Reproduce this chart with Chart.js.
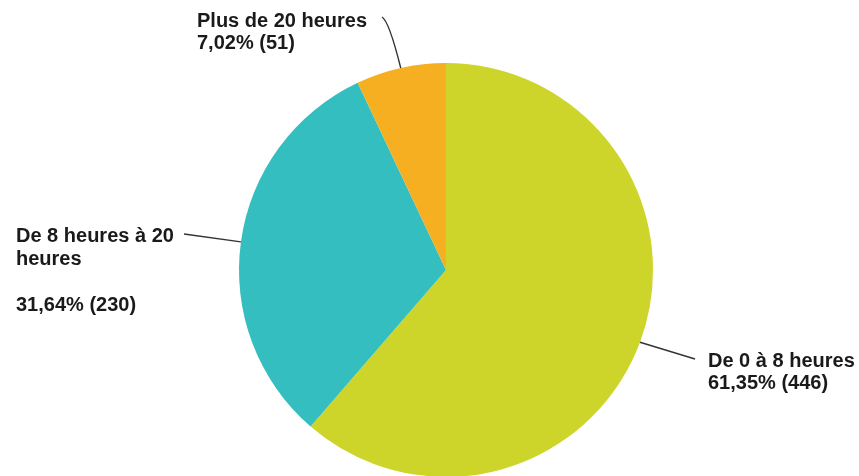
<!DOCTYPE html>
<html>
<head>
<meta charset="utf-8">
<script src="https://cdn.jsdelivr.net/npm/chart.js@4/dist/chart.umd.min.js"></script>
<style>
html,body{margin:0;padding:0;background:#fff;overflow:hidden;}
#wrap{position:absolute;left:0;top:0;width:859px;height:480px;}
</style>
</head>
<body>
<div id="wrap"><canvas id="c" width="859" height="480"></canvas></div>
<script>
// ---- data ----
const categories = ["De 0 à 8 heures", "De 8 heures à 20 heures", "Plus de 20 heures"];
const counts = [446, 230, 51];
const colors = ["#CED52A", "#35BEBF", "#F6AF21"];

// ---- label layout (style only) ----
const labelLayout = [
  { lines: ["De 0 à 8 heures"], x: 708, y: 367, lh: 21.5, line: [[695, 359]] },
  { lines: ["De 8 heures à 20", "heures", ""], x: 16, y: 242, lh: 23, line: [[184, 234]] },
  { lines: ["Plus de 20 heures"], x: 197, y: 27, lh: 21.5, line: [[391, 23], [382, 17]], curve: true }
];

const total = counts.reduce((a, b) => a + b, 0);
function pctText(v) {
  return (v / total * 100).toFixed(2).replace('.', ',') + '% (' + v + ')';
}

const labelPlugin = {
  id: 'pieLabels',
  afterDatasetsDraw(chart) {
    const ctx = chart.ctx;
    const meta = chart.getDatasetMeta(0);
    meta.data.forEach((arc, i) => {
      const p = arc.getProps(['x', 'y', 'startAngle', 'endAngle', 'outerRadius'], true);
      const mid = (p.startAngle + p.endAngle) / 2;
      const ex = p.x + Math.cos(mid) * p.outerRadius;
      const ey = p.y + Math.sin(mid) * p.outerRadius;
      const L = labelLayout[i];
      ctx.save();
      ctx.strokeStyle = '#333';
      ctx.lineWidth = 1.4;
      ctx.beginPath();
      ctx.moveTo(ex, ey);
      if (L.curve) {
        ctx.quadraticCurveTo(L.line[0][0] - 2, L.line[0][1] - 2, L.line[1][0], L.line[1][1]);
      } else {
        ctx.lineTo(L.line[0][0], L.line[0][1]);
      }
      ctx.stroke();
      ctx.fillStyle = '#1a1a1a';
      ctx.font = 'bold 20px "Liberation Sans", Arial, sans-serif';
      ctx.textAlign = 'left';
      ctx.textBaseline = 'alphabetic';
      const all = L.lines.concat([pctText(counts[i])]);
      all.forEach((t, k) => ctx.fillText(t, L.x, L.y + k * L.lh));
      ctx.restore();
    });
  }
};

new Chart(document.getElementById('c'), {
  type: 'pie',
  data: {
    labels: categories,
    datasets: [{
      data: counts,
      backgroundColor: colors,
      borderWidth: 0
    }]
  },
  options: {
    responsive: false,
    animation: false,
    layout: { padding: { left: 239, right: 206, top: 63, bottom: 3 } },
    plugins: { legend: { display: false }, tooltip: { enabled: false } }
  },
  plugins: [labelPlugin]
});
</script>
</body>
</html>
